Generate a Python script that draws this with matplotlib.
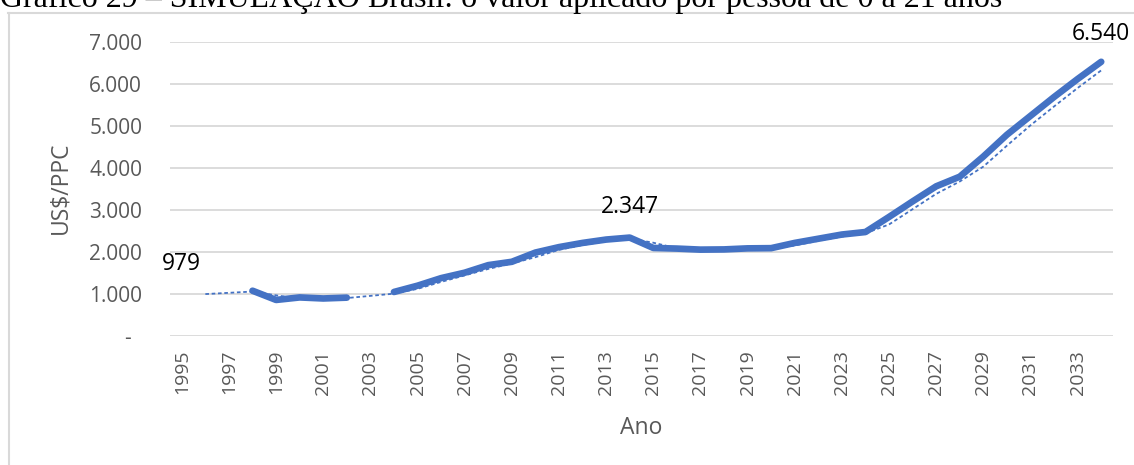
import numpy as np
import matplotlib
matplotlib.use("Agg")
import matplotlib.pyplot as plt
from matplotlib.lines import Line2D

# ---- data ----
years = list(range(1995, 2035))
nan = np.nan
values = [979, nan, nan, 1080, 860, 920, 895, 915, nan, 1050,
          1200, 1380, 1510, 1690, 1770, 1990, 2120, 2220, 2300, 2347,
          2100, 2085, 2060, 2065, 2090, 2095, 2220, 2320, 2420, 2480,
          2840, 3210, 3570, 3800, 4280, 4800, 5250, 5700, 6130, 6540]
trend = [nan, 1000, 1030, 1060, 970, 890, 908, 905, 957, 1010,
         1125, 1290, 1445, 1600, 1730, 1880, 2055, 2170, 2260, 2325,
         2225, 2092, 2072, 2062, 2078, 2092, 2158, 2270, 2370, 2450,
         2660, 3025, 3390, 3685, 4040, 4540, 5025, 5475, 5915, 6335]
yticks = [0, 1000, 2000, 3000, 4000, 5000, 6000, 7000]
ytick_labels = ["-  ", "1.000", "2.000", "3.000", "4.000", "5.000", "6.000", "7.000"]
labeled_points = {1995: "979", 2014: "2.347", 2034: "6.540"}
title = "Gráfico 29 – SIMULAÇÃO Brasil: o valor aplicado por pessoa de 0 a 21 anos"

plt.rcParams['font.family'] = ['Open Sans', 'DejaVu Sans']

W, H = 1134, 465
fig = plt.figure(figsize=(W / 100, H / 100), dpi=100)
fig.patch.set_facecolor('white')

left, right, top, bottom = 170, 1113, 42.5, 336
ax = fig.add_axes([left / W, 1 - bottom / H, (right - left) / W, (bottom - top) / H])

x = np.arange(len(years))
blue = '#4472C4'
ax.plot(x, trend, color=blue, lw=1.3, ls=(0, (2, 1.5)), zorder=3)
ax.plot(x, values, color=blue, lw=4.8, solid_capstyle='round',
        solid_joinstyle='round', zorder=4)

ax.set_xlim(-0.5, len(years) - 0.5)
ax.set_ylim(0, 7000)
ax.set_yticks(yticks)
ax.set_yticklabels(ytick_labels)
odd_idx = [i for i, y in enumerate(years) if y % 2 == 1]
ax.set_xticks(odd_idx)
ax.set_xticklabels([str(years[i]) for i in odd_idx], rotation=90)
ax.tick_params(axis='both', length=0, labelcolor='#595959')
ax.tick_params(axis='y', pad=20, labelsize=15)
ax.tick_params(axis='x', pad=10, labelsize=14)
for s in ax.spines.values():
    s.set_visible(False)
ax.grid(axis='y', color='#D9D9D9', lw=1.3)
ax.set_axisbelow(True)

# chart border (partially visible)
bc = '#D9D9D9'
border_y = 1 - 13 / H
fig.add_artist(Line2D([8.5 / W, 8.5 / W], [0, border_y], color=bc, lw=1.5, zorder=0))
fig.add_artist(Line2D([8 / W, 1], [border_y, border_y], color=bc, lw=1.5, zorder=0))

for yr, lab in labeled_points.items():
    i = years.index(yr)
    # last label is pushed down by the chart edge, as in the reference
    off_px = 28 if i == len(years) - 1 else 31
    ax.annotate(lab, (x[i], values[i]), xytext=(0, off_px * 0.72), textcoords='offset points',
                ha='center', va='center', fontsize=16.5, color='black',
                annotation_clip=False, zorder=5)

fig.text(641 / W, 1 - 428 / H, "Ano", ha='center', va='center', fontsize=16.5, color='#595959')
fig.text(60 / W, 1 - 188 / H, "US$/PPC", ha='center', va='center', rotation=90,
         fontsize=16.5, color='#595959')

# cut-off title
fig.text(0 / W, 1 - 7.5 / H, title, ha='left', va='baseline', fontsize=23,
         family=['Liberation Serif', 'DejaVu Serif'], color='black')

fig.savefig('out.png', dpi=100)
